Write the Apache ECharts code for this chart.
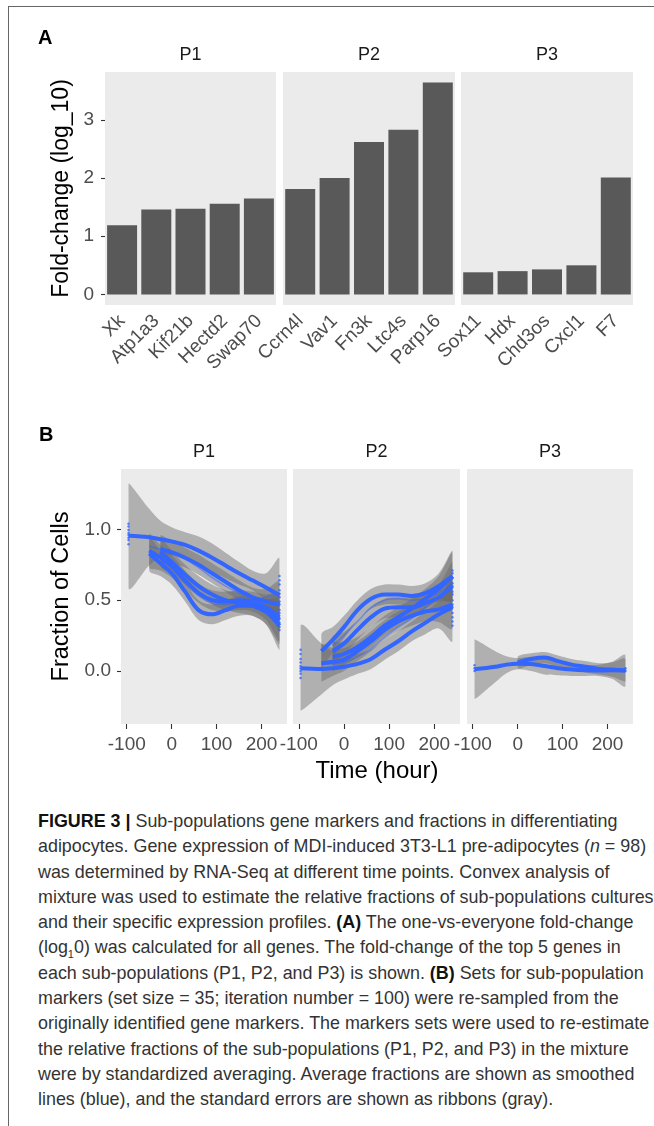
<!DOCTYPE html>
<html>
<head>
    <meta charset="utf-8">
    <title>Figure 3</title>
    <style>
        html, body { margin: 0; padding: 0; background: #fff; }
        body { width: 654px; height: 1126px; position: relative; overflow: hidden; }
        #frame {
            position: absolute; left: 8px; top: 6px; right: 0; bottom: 0;
            border-left: 1.5px solid #666; border-top: 1.5px solid #666;
        }
        #chart { position: absolute; left: 0; top: 0; width: 654px; height: 800px; }
        #caption {
            position: absolute; left: 38px; top: 809px;
            font-family: "Liberation Sans", Arial, sans-serif;
            font-size: 17.9px; line-height: 25.3px; color: #333; white-space: nowrap;
        }
        #caption b { color: #111; }
        #caption sub { font-size: 11px; line-height: 0; }
    </style>
</head>
<body>
    <div id="frame"></div>
    <div id="chart"></div>
    <div id="caption">
        <b>FIGURE 3 |</b> Sub-populations gene markers and fractions in differentiating<br>
        adipocytes. Gene expression of MDI-induced 3T3-L1 pre-adipocytes (<i>n</i> = 98)<br>
        was determined by RNA-Seq at different time points. Convex analysis of<br>
        mixture was used to estimate the relative fractions of sub-populations cultures<br>
        and their specific expression profiles. <b>(A)</b> The one-vs-everyone fold-change<br>
        (log<sub>1</sub>0) was calculated for all genes. The fold-change of the top 5 genes in<br>
        each sub-populations (P1, P2, and P3) is shown. <b>(B)</b> Sets for sub-population<br>
        markers (set size = 35; iteration number = 100) were re-sampled from the<br>
        originally identified gene markers. The markers sets were used to re-estimate<br>
        the relative fractions of the sub-populations (P1, P2, and P3) in the mixture<br>
        were by standardized averaging. Average fractions are shown as smoothed<br>
        lines (blue), and the standard errors are shown as ribbons (gray).
    </div>

    <script src="https://cdn.jsdelivr.net/npm/echarts@6/dist/echarts.min.js"></script>
    <script>
        // ---- panel A : fold-change of the top 5 genes ----
        var genesP1 = ['Xk', 'Atp1a3', 'Kif21b', 'Hectd2', 'Swap70'];
        var genesP2 = ['Ccrn4l', 'Vav1', 'Fn3k', 'Ltc4s', 'Parp16'];
        var genesP3 = ['Sox11', 'Hdx', 'Chd3os', 'Cxcl1', 'F7'];
        var foldP1 = [1.19, 1.46, 1.47, 1.56, 1.65];
        var foldP2 = [1.81, 2.00, 2.62, 2.83, 3.64];
        var foldP3 = [0.38, 0.40, 0.43, 0.50, 2.01];
        var foldTicks = [0, 1, 2, 3];

        // ---- panel B : smoothed fractions (fit) and standard errors (se) ----
        var hours = [-96, -50, -25, 0, 30, 60, 90, 120, 150, 180, 210, 240];
        var timeTicks = [-100, 0, 100, 200];
        var fracTicks = [0, 0.5, 1];

        var p1FitA = [0.955, 0.945, 0.93, 0.915, 0.89, 0.85, 0.80, 0.745, 0.69, 0.64, 0.59, 0.535];
        var p1SeA  = [0.37, 0.20, 0.13, 0.10, 0.09, 0.10, 0.10, 0.09, 0.08, 0.07, 0.10, 0.26];
        var p1FitB = [null, 0.83, 0.76, 0.69, 0.56, 0.43, 0.40, 0.43, 0.46, 0.46, 0.42, 0.32];
        var p1SeB  = [null, 0.12, 0.09, 0.08, 0.07, 0.07, 0.07, 0.07, 0.07, 0.07, 0.09, 0.17];
        var p1FitC = [null, null, 0.86, 0.84, 0.80, 0.75, 0.69, 0.63, 0.57, 0.52, 0.49, 0.47];
        var p1SeC  = [null, null, 0.10, 0.08, 0.07, 0.07, 0.07, 0.07, 0.07, 0.07, 0.09, 0.16];
        var p1FitD = [null, null, 0.84, 0.77, 0.68, 0.60, 0.54, 0.50, 0.48, 0.46, 0.42, 0.36];
        var p1SeD  = [null, null, 0.10, 0.08, 0.07, 0.07, 0.07, 0.07, 0.07, 0.07, 0.09, 0.17];
        var p1FitE = [null, 0.85, 0.80, 0.74, 0.64, 0.55, 0.50, 0.49, 0.50, 0.49, 0.45, 0.38];
        var p1SeE  = [null, 0.12, 0.09, 0.08, 0.07, 0.07, 0.07, 0.07, 0.07, 0.07, 0.09, 0.17];
        var p1Thin1 = [null, 0.88, 0.86, 0.83, 0.79, 0.73, 0.66, 0.60, 0.55, 0.52, 0.50, 0.46];
        var p1Thin2 = [null, null, 0.82, 0.73, 0.62, 0.53, 0.48, 0.47, 0.49, 0.50, 0.52, 0.55];

        var p2FitA = [0.02, 0.015, 0.02, 0.03, 0.05, 0.085, 0.15, 0.21, 0.28, 0.34, 0.40, 0.45];
        var p2SeA  = [0.30, 0.18, 0.12, 0.09, 0.07, 0.07, 0.07, 0.07, 0.07, 0.08, 0.10, 0.24];
        var p2FitB = [null, 0.14, 0.22, 0.31, 0.43, 0.51, 0.54, 0.54, 0.53, 0.55, 0.60, 0.67];
        var p2SeB  = [null, 0.12, 0.09, 0.08, 0.07, 0.07, 0.07, 0.07, 0.07, 0.07, 0.09, 0.18];
        var p2FitC = [null, null, 0.14, 0.195, 0.29, 0.38, 0.44, 0.45, 0.45, 0.48, 0.52, 0.60];
        var p2SeC  = [null, null, 0.10, 0.08, 0.07, 0.07, 0.07, 0.07, 0.07, 0.07, 0.09, 0.17];
        var p2FitD = [null, null, 0.10, 0.12, 0.17, 0.24, 0.32, 0.38, 0.44, 0.51, 0.58, 0.67];
        var p2SeD  = [null, null, 0.10, 0.08, 0.07, 0.07, 0.07, 0.07, 0.07, 0.07, 0.09, 0.17];
        var p2FitE = [null, 0.055, 0.065, 0.08, 0.14, 0.21, 0.29, 0.35, 0.39, 0.42, 0.435, 0.47];
        var p2SeE  = [null, 0.13, 0.10, 0.08, 0.07, 0.07, 0.07, 0.07, 0.07, 0.07, 0.09, 0.17];
        var p2Thin1 = [null, null, 0.18, 0.25, 0.35, 0.45, 0.50, 0.51, 0.50, 0.51, 0.55, 0.62];
        var p2Thin2 = [null, 0.05, 0.05, 0.06, 0.10, 0.16, 0.24, 0.31, 0.37, 0.45, 0.52, 0.58];

        var p3FitA = [0.012, 0.03, 0.045, 0.052, 0.05, 0.035, 0.02, 0.01, 0.005, 0.004, 0.005, 0.003];
        var p3SeA  = [0.21, 0.11, 0.06, 0.04, 0.05, 0.06, 0.05, 0.045, 0.04, 0.04, 0.06, 0.11];
        var p3FitB = [null, null, null, 0.06, 0.085, 0.095, 0.07, 0.045, 0.03, 0.015, 0.01, 0.005];
        var p3SeB  = [null, null, null, 0.04, 0.04, 0.04, 0.04, 0.04, 0.04, 0.04, 0.05, 0.08];

        // raw fractions at the first and last time point (blue specks at the panel ends)
        var p1First = [1.04, 1.02, 0.995, 0.975, 0.96, 0.94, 0.925, 0.895];
        var p1Last  = [0.67, 0.64, 0.61, 0.57, 0.545, 0.52, 0.49, 0.47, 0.43, 0.41, 0.37, 0.34, 0.31, 0.29];
        var p2First = [0.15, 0.12, 0.085, 0.06, 0.035, 0.02, 0.0, -0.02, -0.05];
        var p2Last  = [0.71, 0.69, 0.655, 0.62, 0.6, 0.56, 0.54, 0.5, 0.47, 0.45, 0.41, 0.38, 0.35, 0.32];
        var p3First = [0.04, 0.02, 0.0];
        var p3Last  = [0.02, 0.0];

        var fontFam = '"Liberation Sans", Arial, sans-serif';
        var blue = '#3366FF';
        var chart = echarts.init(document.getElementById('chart'));

        var barGrids = [
            { left: 105, top: 72, width: 171, height: 233 },
            { left: 283, top: 72, width: 172, height: 233 },
            { left: 461, top: 72, width: 172, height: 233 }
        ];
        var lineGrids = [
            { left: 121, top: 469, width: 166, height: 255 },
            { left: 293, top: 469, width: 167, height: 255 },
            { left: 467, top: 469, width: 166, height: 255 }
        ];
        var grids = barGrids.concat(lineGrids).map(function (g) {
            return Object.assign({ show: true, backgroundColor: '#EBEBEB', borderWidth: 0, containLabel: false }, g);
        });

        var tickLabel = { fontSize: 19, color: '#4D4D4D', fontFamily: fontFam };
        var tickLine = { lineStyle: { color: '#333', width: 1.1 } };
        var noLine = { show: false, onZero: false };

        var xAxes = [], yAxes = [];
        [genesP1, genesP2, genesP3].forEach(function (genes, i) {
            xAxes.push({
                type: 'category', gridIndex: i, data: genes,
                axisLine: noLine,
                axisTick: Object.assign({ alignWithLabel: true, length: 5 }, tickLine),
                axisLabel: Object.assign({ rotate: 45, interval: 0, margin: 13 }, tickLabel),
                splitLine: { show: false }
            });
            yAxes.push({
                type: 'value', gridIndex: i, min: -0.182, max: 3.822,
                axisLine: noLine, splitLine: { show: false },
                axisTick: Object.assign({ show: i === 0, length: 4, customValues: foldTicks }, tickLine),
                axisLabel: Object.assign({ show: i === 0, margin: 11, customValues: foldTicks }, tickLabel)
            });
        });
        [0, 1, 2].forEach(function (i) {
            xAxes.push({
                type: 'value', gridIndex: 3 + i, min: -112.8, max: 256.8,
                axisLine: noLine, splitLine: { show: false },
                axisTick: Object.assign({ length: 5, customValues: timeTicks }, tickLine),
                axisLabel: Object.assign({ margin: 11, customValues: timeTicks }, tickLabel)
            });
            yAxes.push({
                type: 'value', gridIndex: 3 + i, min: -0.374, max: 1.426,
                axisLine: noLine, splitLine: { show: false },
                axisTick: Object.assign({ show: i === 0, length: 4, customValues: fracTicks }, tickLine),
                axisLabel: Object.assign({
                    show: i === 0, margin: 10, customValues: fracTicks,
                    formatter: function (v) { return v.toFixed(1); }
                }, tickLabel)
            });
        });

        var series = [];
        // bars
        [foldP1, foldP2, foldP3].forEach(function (vals, i) {
            series.push({
                type: 'bar', xAxisIndex: i, yAxisIndex: i, data: vals,
                barWidth: 30, itemStyle: { color: '#595959' }, silent: true
            });
        });

        // helpers for panel B
        function pairs(vals) {
            var out = [];
            for (var i = 0; i < hours.length; i++) {
                if (vals[i] != null) out.push([hours[i], vals[i]]);
            }
            return out;
        }

        // one ribbon = one polygon, built from all rows [hour, low, high] of the series
        function renderRibbon(params, api) {
            if (params.dataIndexInside !== 0) return;
            var n = params.dataInsideLength;
            var upper = [], lower = [];
            for (var i = 0; i < n; i++) {
                var h = api.value(0, i);
                lower.push(api.coord([h, api.value(1, i)]));
                upper.push(api.coord([h, api.value(2, i)]));
            }
            var pts = upper.concat(lower.reverse());
            var x0 = Infinity, y0 = Infinity, x1 = -Infinity, y1 = -Infinity;
            pts.forEach(function (p) {
                x0 = Math.min(x0, p[0]); x1 = Math.max(x1, p[0]);
                y0 = Math.min(y0, p[1]); y1 = Math.max(y1, p[1]);
            });
            return {
                type: 'polygon',
                shape: { points: pts, smooth: 0.35, smoothConstraint: [[x0, y0], [x1, y1]] },
                style: { fill: 'rgba(105,105,105,0.45)' }
            };
        }

        var ribbons = [], fits = [], thins = [], specks = [];
        function addFit(panel, fit, se) {
            var ax = 3 + panel;
            var rows = [];
            for (var i = 0; i < hours.length; i++) {
                if (fit[i] == null) continue;
                rows.push([hours[i], fit[i] - se[i], fit[i] + se[i]]);
            }
            ribbons.push({
                type: 'custom', xAxisIndex: ax, yAxisIndex: ax, data: rows,
                encode: { x: 0, y: [1, 2] }, renderItem: renderRibbon, clip: true, silent: true
            });
            fits.push({
                type: 'line', xAxisIndex: ax, yAxisIndex: ax, data: pairs(fit),
                symbol: 'none', smooth: 0.35, lineStyle: { color: blue, width: 4 }, silent: true
            });
        }
        function addThin(panel, vals) {
            thins.push({
                type: 'line', xAxisIndex: 3 + panel, yAxisIndex: 3 + panel, data: pairs(vals),
                symbol: 'none', smooth: 0.35, lineStyle: { color: blue, width: 1.6, opacity: 0.5 }, silent: true
            });
        }
        function addSpecks(panel, hour, vals) {
            specks.push({
                type: 'scatter', xAxisIndex: 3 + panel, yAxisIndex: 3 + panel,
                data: vals.map(function (v) { return [hour, v]; }),
                symbolSize: 2.5, itemStyle: { color: blue, opacity: 0.8 }, silent: true
            });
        }

        addFit(0, p1FitA, p1SeA); addFit(0, p1FitB, p1SeB); addFit(0, p1FitC, p1SeC);
        addFit(0, p1FitD, p1SeD); addFit(0, p1FitE, p1SeE);
        addFit(1, p2FitA, p2SeA); addFit(1, p2FitB, p2SeB); addFit(1, p2FitC, p2SeC);
        addFit(1, p2FitD, p2SeD); addFit(1, p2FitE, p2SeE);
        addFit(2, p3FitA, p3SeA); addFit(2, p3FitB, p3SeB);
        addThin(0, p1Thin1); addThin(0, p1Thin2);
        addThin(1, p2Thin1); addThin(1, p2Thin2);
        addSpecks(0, hours[0], p1First); addSpecks(0, hours[hours.length - 1], p1Last);
        addSpecks(1, hours[0], p2First); addSpecks(1, hours[hours.length - 1], p2Last);
        addSpecks(2, hours[0], p3First); addSpecks(2, hours[hours.length - 1], p3Last);

        series = series.concat(ribbons, specks, thins, fits);

        // titles, strip labels and panel letters
        function txt(text, x, y, size, opts) {
            return {
                type: 'text', x: x, y: y, silent: true,
                style: Object.assign({
                    text: text, fill: '#1A1A1A', align: 'center', verticalAlign: 'middle',
                    font: size + 'px ' + fontFam
                }, opts || {})
            };
        }
        var graphics = [
            txt('A', 38, 38, 20, { align: 'left', font: 'bold 20px ' + fontFam, fill: '#000' }),
            txt('B', 39, 435, 20, { align: 'left', font: 'bold 20px ' + fontFam, fill: '#000' }),
            txt('P1', 190.5, 55, 18), txt('P2', 369, 55, 18), txt('P3', 547, 55, 18),
            txt('P1', 204, 452, 18), txt('P2', 376.5, 452, 18), txt('P3', 550, 452, 18),
            txt('Time (hour)', 377, 771, 24, { fill: '#000' })
        ];
        var yTitleA = txt('Fold-change (log_10)', 62, 188.5, 23, { fill: '#000' });
        yTitleA.rotation = Math.PI / 2;
        var yTitleB = txt('Fraction of Cells', 62, 596.5, 23.5, { fill: '#000' });
        yTitleB.rotation = Math.PI / 2;
        graphics.push(yTitleA, yTitleB);

        chart.setOption({
            animation: false,
            grid: grids,
            xAxis: xAxes,
            yAxis: yAxes,
            series: series,
            graphic: graphics
        });
    </script>
</body>
</html>
